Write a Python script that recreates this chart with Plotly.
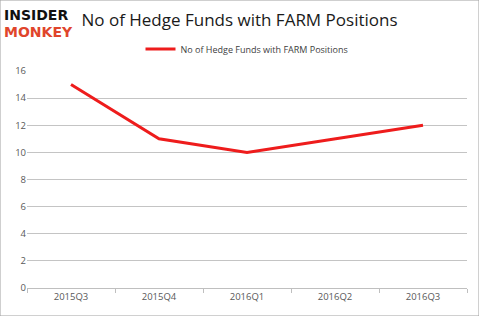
import plotly.graph_objects as go

quarters = ["2015Q3", "2015Q4", "2016Q1", "2016Q2", "2016Q3"]
funds = [15, 11, 10, 11, 12]
y_ticks = [0, 2, 4, 6, 8, 10, 12, 14, 16]
series_name = "No of Hedge Funds with FARM Positions"

fig = go.Figure()
fig.add_trace(go.Scatter(
    x=quarters, y=funds, mode="lines", name=series_name,
    line=dict(color="#ee1c1c", width=3),
))

fig.update_layout(
    width=479, height=316,
    margin=dict(l=27, r=12, t=71, b=28),
    paper_bgcolor="white", plot_bgcolor="white",
    font=dict(family="Open Sans, Liberation Sans, sans-serif", color="#595959", size=10),
    title=dict(text="No of Hedge Funds with FARM Positions", x=0.5, xanchor="center",
               y=0.935, yanchor="middle",
               font=dict(size=17, color="#1a1a1a", family="Open Sans, sans-serif")),
    showlegend=True,
    legend=dict(orientation="h", x=0.5, xanchor="center", y=1.101, yanchor="middle",
                font=dict(size=9, color="#404040"), bgcolor="rgba(0,0,0,0)"),
    xaxis=dict(type="category", range=[-0.5, 4.5], showgrid=False,
               showline=True, linecolor="#bfbfbf", linewidth=1,
               ticks="outside", tickson="boundaries", ticklen=4, tickcolor="#bfbfbf",
               tickfont=dict(size=9.5, color="#595959")),
    yaxis=dict(range=[0, 16], tickvals=y_ticks, showgrid=True, gridcolor="#c4c4c4",
               gridwidth=1, zeroline=False, showline=False,
               ticks="", ticklen=0,
               tickfont=dict(size=9.5, color="#595959")),
    shapes=[dict(type="rect", xref="paper", yref="paper", x0=-27/440, x1=1+12/440,
                 y0=-28/217, y1=1+71/217, line=dict(color="#a0a0a0", width=1))],
)

fig.add_annotation(text="<b>INSIDER</b>", xref="paper", yref="paper",
                   x=-24/440, y=1+(71-15)/217, xanchor="left", yanchor="middle",
                   showarrow=False, borderpad=0,
                   font=dict(size=14, color="#111111", family="DejaVu Sans"))
fig.add_annotation(text="<b>MONKEY</b>", xref="paper", yref="paper",
                   x=-24/440, y=1+(71-32)/217, xanchor="left", yanchor="middle",
                   showarrow=False, borderpad=0,
                   font=dict(size=14, color="#e0452b", family="DejaVu Sans"))

fig.write_html("out.html")
